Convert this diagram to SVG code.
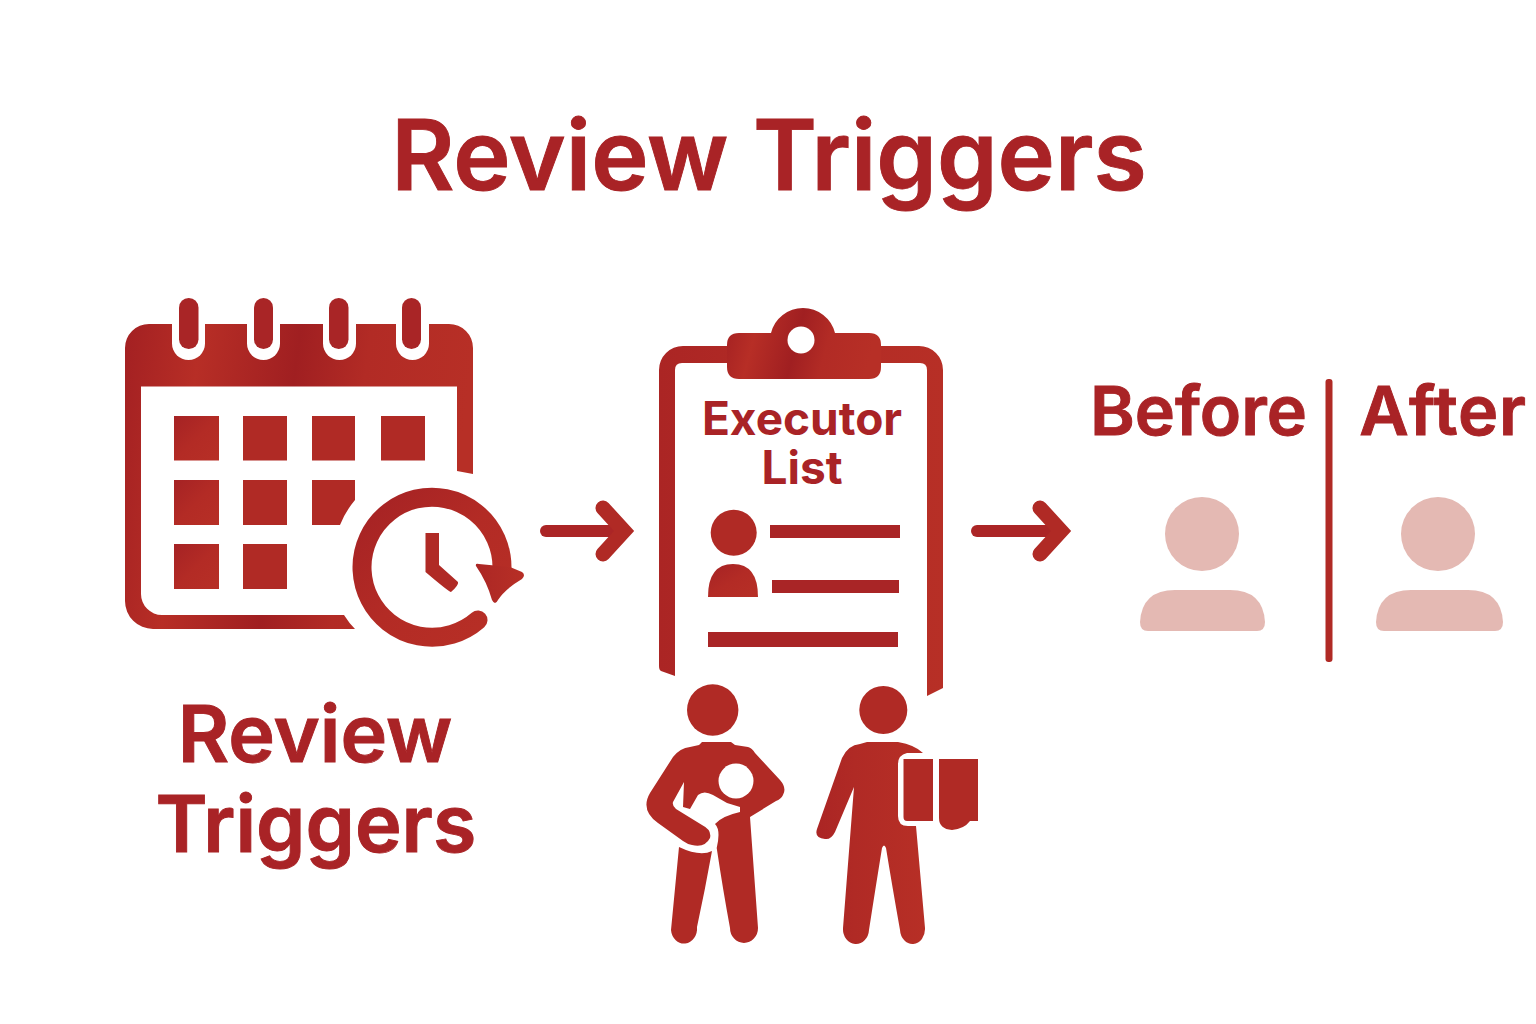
<svg xmlns="http://www.w3.org/2000/svg" width="1536" height="1024" viewBox="0 0 1536 1024">
<style>
.r{fill:#b02a25}
.w{fill:#fff}
.f{fill:#e4b9b3}
.t{font-family:"Inter","Liberation Sans",sans-serif;font-weight:600;fill:#a92326;stroke:#a92326;stroke-width:.9;text-anchor:middle}
.b{font-weight:700;stroke:none}
.c{fill:none;stroke:#ab2526;stroke-width:12;stroke-linecap:round}
.h{fill:none;stroke:#b02a25;stroke-width:15;stroke-linecap:round;stroke-linejoin:miter}
</style>
<defs>
<linearGradient id="g1" x1="0" y1="0" x2="1" y2="0.12"><stop offset="0" stop-color="#a32022"/><stop offset=".22" stop-color="#b72e26"/><stop offset=".5" stop-color="#a01f21"/><stop offset=".7" stop-color="#b22b25"/><stop offset="1" stop-color="#b72f26"/></linearGradient>
<linearGradient id="g2" x1="0" y1="0" x2="1" y2="1"><stop offset="0" stop-color="#a52224"/><stop offset=".5" stop-color="#b32b25"/><stop offset="1" stop-color="#b72f26"/></linearGradient>
<linearGradient id="g3" x1="0" y1="0" x2="1" y2="0"><stop offset="0" stop-color="#ab2524"/><stop offset=".35" stop-color="#b02a25"/><stop offset="1" stop-color="#b72f26"/></linearGradient>
</defs>
<rect width="1536" height="1024" fill="#fff"/>
<g id="title"><text class="t" x="769" y="190" font-size="97">Review Triggers</text></g>
<g id="calendar">
<path fill="url(#g1)" fill-rule="evenodd" d="M125 348A24 24 0 0 1 149 324H449A24 24 0 0 1 473 348V474L457 471V386.500H141V594A21 21 0 0 0 162 615H344Q349 623 355 629H153A28 28 0 0 1 125 601Z"/>
<g class="w"><rect x="172" y="300" width="33" height="60" rx="16.500"/><rect x="247" y="300" width="33" height="60" rx="16.500"/><rect x="323" y="300" width="33" height="60" rx="16.500"/><rect x="396" y="300" width="33" height="60" rx="16.500"/></g>
<rect x="172" y="300" width="33" height="24" class="w"/><rect x="247" y="300" width="33" height="24" class="w"/><rect x="323" y="300" width="33" height="24" class="w"/><rect x="396" y="300" width="33" height="24" class="w"/>
<g fill="#a92526"><rect x="179" y="298" width="19.500" height="51" rx="9.700"/><rect x="254" y="298" width="19" height="51" rx="9.500"/><rect x="329" y="298" width="19.500" height="51" rx="9.700"/><rect x="402" y="298" width="19" height="51" rx="9.500"/></g>
<g class="r"><rect x="174" y="416" width="45" height="44.500" fill="url(#g2)"/><rect x="243" y="416" width="44" height="44.500"/><rect x="312" y="416" width="43" height="44.500"/><rect x="381" y="416" width="44" height="44.500"/>
<rect x="174" y="480" width="45" height="45" fill="url(#g2)"/><rect x="243" y="480" width="44" height="45"/><path d="M312 480H355V500Q345 512 340 525H312Z"/>
<rect x="174" y="544" width="45" height="45" fill="url(#g2)"/><rect x="243" y="544" width="44" height="45"/></g>
<path fill="none" stroke="url(#g2)" stroke-width="19" stroke-linecap="round" d="M478 620A70 70 0 1 1 502 568"/>
<path fill="url(#g3)" d="M476 566Q475 563 479 564L510 567L522 572Q526 575 522 579Q505 589 498 600Q495 606 492 600Q487 582 476 566Z"/>
<path class="r" d="M425.500 533H439V565L458 582Q459 585 451 592Q449 592 425.500 572Z"/>
</g>
<g id="label-review"><text class="t" x="315" y="762" font-size="79">Review</text><text class="t" x="316" y="852" font-size="79">Triggers</text></g>
<g id="connectors"><path class="c" d="M546 531H625"/><path class="h" d="M603 508L624 531L603 554"/><path class="c" d="M977 531H1060"/><path class="h" d="M1040 508L1061 531L1040 554"/></g>
<g id="clipboard">
<path fill="url(#g3)" fill-rule="evenodd" d="M659 370A24 24 0 0 1 683 346H919A24 24 0 0 1 943 370V688L927 696V370Q927 363 920 363H682Q675 363 675 370V676L661 671Q659 670 659 666Z"/>
<path fill="url(#g1)" d="M739 333H771A33 33 0 0 1 835 333H869Q881 333 881 345V367Q881 379 869 379H739Q727 379 727 367V345Q727 333 739 333Z"/>
<circle class="w" cx="801" cy="340" r="13.500"/>
<text class="t b" x="802" y="435" font-size="46">Executor</text><text class="t b" x="802" y="484" font-size="46">List</text>
<circle class="r" cx="733.700" cy="532.700" r="23"/>
<path fill="url(#g2)" d="M708 597Q708 564 733 564Q758 564 758 597Z"/>
<rect x="770" y="525" width="130" height="13" fill="#a92526"/><rect x="772" y="580" width="127" height="13" fill="#a92526"/><rect x="708" y="632" width="190" height="15" fill="#a92526"/>
</g>
<g id="person-left">
<circle class="r" cx="712.700" cy="710" r="25.700"/>
<path class="r" d="M702 742H731L735 745L748 747Q752 748 755 753L780 780Q787 788 783 795Q781 799 776 801L750 817L758 928A14 15 0 0 1 730 928Q723 890 716.700 848Q721 830 715 824Q722 816 740 812V807L727 803L713 795Q704 790 698 795L690 809L683 807L684 782L673 802Q672 806 676 809L702 825Q712 830 710 838Q705 848 692 845Q687 844 683 841L658 823Q640 810 650 793L673 757Q680 748 690 747L699 745Z"/>
<path class="r" d="M679 847Q700 857 712 851Q705 890 697 927A13 15 0 0 1 671 930Z"/>
<circle class="w" cx="736" cy="781" r="17.500"/>
</g>
<g id="person-right">
<circle class="r" cx="883.300" cy="710" r="24"/>
<path fill="url(#g3)" d="M867 742H898Q915 745 923 753H907Q898 755 898 764V816Q898 826 908 826H916L925 928A12.500 15 0 0 1 900 930Q892 885 886 848Q884 843 882 848Q876 885 869 930A13 15 0 0 1 843 928L854 787L835 832Q831 840 825 839Q814 838 817 829L842 758Q848 745 860 744Z"/>
<path class="r" d="M903.500 759H933V821H907Q903.500 821 903.500 817Z"/>
<path class="r" d="M939 759H978V821H970Q964 829 952 830Q939 829 939 818Z"/>
</g>
<g id="before-after">
<text class="t" x="1198.500" y="435" font-size="68">Before</text>
<text class="t" x="1443" y="435" font-size="68" letter-spacing=".8">After</text>
<rect x="1325.500" y="379" width="7" height="283" rx="3" fill="#b02a25"/>
</g>
<g id="avatar-before"><circle class="f" cx="1202" cy="534" r="37"/><path class="f" d="M1140 622Q1142 590 1175 590H1230Q1263 590 1265 622Q1265 631 1257 631H1148Q1140 631 1140 622Z"/></g>
<g id="avatar-after"><circle class="f" cx="1438" cy="534" r="37"/><path class="f" d="M1376 622Q1378 590 1411 590H1468Q1501 590 1503 622Q1503 631 1495 631H1384Q1376 631 1376 622Z"/></g>
</svg>
